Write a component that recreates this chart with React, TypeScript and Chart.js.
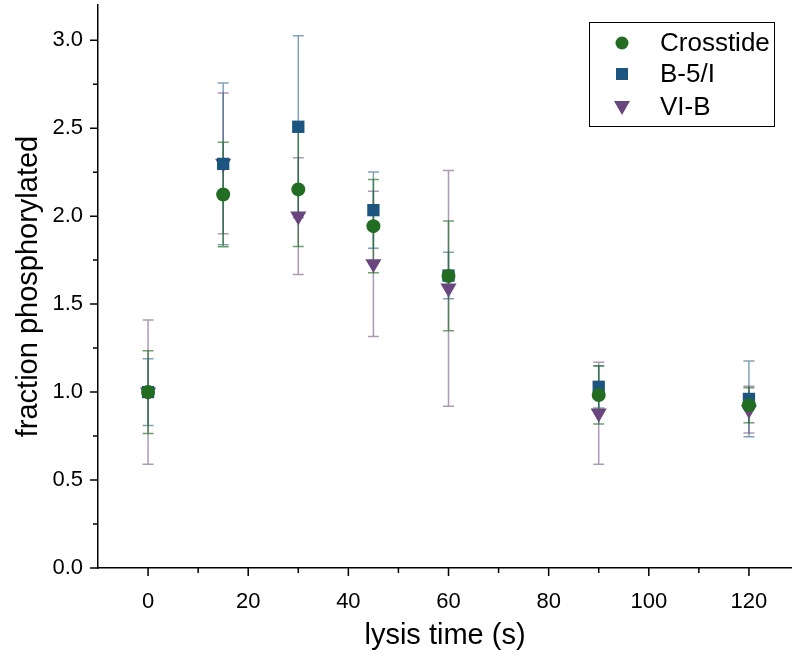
import React, { useEffect, useRef } from 'react';
import { Chart, registerables } from 'chart.js';

Chart.register(...registerables);

const times = [0, 15, 30, 45, 60, 90, 120];
const seriesNames = ['Crosstide', 'B-5/I', 'VI-B'];
const crosstide = [1.0, 2.123, 2.152, 1.943, 1.66, 0.983, 0.925];
const crosstideErr = [0.235, 0.297, 0.325, 0.265, 0.312, 0.165, 0.1];
const b5i = [1.0, 2.297, 2.508, 2.034, 1.662, 1.03, 0.961];
const b5iErr = [0.19, 0.46, 0.517, 0.217, 0.132, 0.12, 0.215];
const vib = [1.0, 2.3, 2.0, 1.729, 1.59, 0.88, 0.9];
const vibErr = [0.41, 0.4, 0.332, 0.413, 0.67, 0.29, 0.133];

const xTickValues = [0, 20, 40, 60, 80, 100, 120];
const yTickValues = [0, 0.5, 1.0, 1.5, 2.0, 2.5, 3.0];

const colors = ['#226d22', '#1b5580', '#69467d'];
const errColors = ['rgba(34,109,34,0.65)', 'rgba(27,85,128,0.55)', 'rgba(105,70,125,0.55)'];
const FONT = '"Liberation Sans", Arial, sans-serif';

const errorBarPlugin = {
  id: 'errorBars',
  beforeDatasetsDraw(chart: any) {
    const { ctx } = chart;
    const ys = chart.scales.y;
    const order = [2, 1, 0];
    ctx.save();
    for (const di of order) {
      const meta = chart.getDatasetMeta(di);
      const ds: any = chart.data.datasets[di];
      ctx.strokeStyle = errColors[di];
      ctx.lineWidth = 1.5;
      meta.data.forEach((pt: any, i: number) => {
        const v = ds.data[i].y;
        const e = ds.errors[i];
        const x = pt.x;
        const yTop = ys.getPixelForValue(v + e);
        const yBot = ys.getPixelForValue(v - e);
        ctx.beginPath();
        ctx.moveTo(x, yTop);
        ctx.lineTo(x, yBot);
        ctx.moveTo(x - 5.5, yTop);
        ctx.lineTo(x + 5.5, yTop);
        ctx.moveTo(x - 5.5, yBot);
        ctx.lineTo(x + 5.5, yBot);
        ctx.stroke();
      });
    }
    ctx.restore();
  },
};

const tickPlugin = {
  id: 'tickMarks',
  afterDraw(chart: any) {
    const { ctx, chartArea } = chart;
    const xs = chart.scales.x;
    const ys = chart.scales.y;
    ctx.save();
    ctx.strokeStyle = '#000';
    ctx.lineWidth = 1.5;
    ctx.beginPath();
    for (let v = 0; v <= 120; v += 10) {
      const px = xs.getPixelForValue(v);
      const len = v % 20 === 0 ? 8 : 5;
      ctx.moveTo(px, chartArea.bottom);
      ctx.lineTo(px, chartArea.bottom + len);
    }
    for (let k = 0; k <= 12; k++) {
      const v = k * 0.25;
      const py = ys.getPixelForValue(v);
      const len = k % 2 === 0 ? 8 : 5;
      ctx.moveTo(chartArea.left, py);
      ctx.lineTo(chartArea.left - len, py);
    }
    ctx.stroke();
    ctx.restore();
  },
};

function drawMarker(ctx: CanvasRenderingContext2D, kind: number, x: number, y: number) {
  ctx.fillStyle = colors[kind];
  ctx.beginPath();
  if (kind === 0) {
    ctx.arc(x, y, 6.5, 0, Math.PI * 2);
  } else if (kind === 1) {
    ctx.rect(x - 6, y - 6, 12, 12);
  } else {
    ctx.moveTo(x - 8, y - 6);
    ctx.lineTo(x + 8, y - 6);
    ctx.lineTo(x, y + 8);
    ctx.closePath();
  }
  ctx.fill();
}

const legendPlugin = {
  id: 'boxLegend',
  afterDraw(chart: any) {
    const { ctx } = chart;
    ctx.save();
    ctx.strokeStyle = '#000';
    ctx.lineWidth = 1;
    ctx.strokeRect(589.5, 22.5, 185, 104);
    ctx.font = `26px ${FONT}`;
    ctx.textBaseline = 'middle';
    ctx.fillStyle = '#000';
    const rows = [43, 74, 107];
    seriesNames.forEach((name, i) => {
      drawMarker(ctx, i, 622, rows[i]);
      ctx.fillStyle = '#000';
      ctx.fillText(name, 660, rows[i] + 1);
    });
    ctx.restore();
  },
};

export default function App() {
  const ref = useRef<HTMLCanvasElement | null>(null);
  useEffect(() => {
    if (!ref.current) return;
    const mk = (vals: number[]) => times.map((t, i) => ({ x: t, y: vals[i] }));
    const chart = new Chart(ref.current, {
      type: 'scatter',
      data: {
        datasets: [
          {
            label: seriesNames[0],
            data: mk(crosstide),
            errors: crosstideErr,
            pointStyle: 'circle',
            pointRadius: 7,
            backgroundColor: colors[0],
            borderColor: colors[0],
            borderWidth: 0,
          } as any,
          {
            label: seriesNames[1],
            data: mk(b5i),
            errors: b5iErr,
            pointStyle: 'rect',
            pointRadius: 8.7,
            backgroundColor: colors[1],
            borderColor: colors[1],
            borderWidth: 0,
          } as any,
          {
            label: seriesNames[2],
            data: mk(vib),
            errors: vibErr,
            pointStyle: 'triangle',
            pointRotation: 180,
            pointRadius: 9.3,
            backgroundColor: colors[2],
            borderColor: colors[2],
            borderWidth: 0,
          } as any,
        ],
      },
      options: {
        animation: false,
        responsive: false,
        maintainAspectRatio: false,
        layout: { autoPadding: false, padding: { top: 5, right: 0, left: 0, bottom: 0 } },
        plugins: {
          legend: { display: false },
          tooltip: { enabled: false },
        },
        scales: {
          x: {
            type: 'linear',
            min: -10,
            max: 128.6,
            afterFit: (s: any) => { s.height = 95; s.paddingLeft = 0; s.paddingRight = 0; },
            afterBuildTicks: (s: any) => { s.ticks = xTickValues.map((v) => ({ value: v })); },
            grid: { display: false, drawTicks: false },
            border: { display: true, color: '#000', width: 1.5 },
            ticks: {
              padding: 21,
              color: '#000',
              font: { family: FONT, size: 22 },
              maxRotation: 0,
              autoSkip: false,
              callback: (v: any) => String(v),
            },
            title: {
              display: true,
              text: 'lysis time (s)',
              color: '#000',
              font: { family: FONT, size: 29 },
              padding: { top: 0, bottom: 10 },
            },
          },
          y: {
            type: 'linear',
            min: 0,
            max: 3.2,
            afterFit: (s: any) => { s.width = 98; s.paddingTop = 0; s.paddingBottom = 0; },
            afterBuildTicks: (s: any) => { s.ticks = yTickValues.map((v) => ({ value: v })); },
            grid: { display: false, drawTicks: false },
            border: { display: true, color: '#000', width: 1.5 },
            ticks: {
              padding: 15,
              color: '#000',
              font: { family: FONT, size: 22 },
              autoSkip: false,
              callback: (v: any) => Number(v).toFixed(1),
            },
            title: {
              display: true,
              text: 'fraction phosphorylated',
              color: '#000',
              font: { family: FONT, size: 29 },
              padding: { top: 12, bottom: 0 },
            },
          },
        },
      } as any,
      plugins: [errorBarPlugin, tickPlugin, legendPlugin],
    });
    return () => chart.destroy();
  }, []);
  return (
    <div style={{ position: 'absolute', left: 0, top: 0, width: 792, height: 663, background: '#fff' }}>
      <canvas ref={ref} width={792} height={663} style={{ display: 'block', width: 792, height: 663 }} />
    </div>
  );
}
